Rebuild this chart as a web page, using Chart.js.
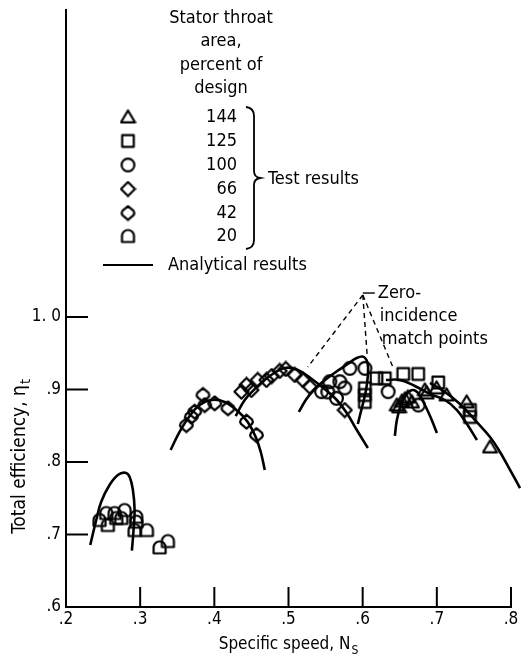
<!DOCTYPE html>
<html>
<head>
<meta charset="utf-8">
<script src="https://cdn.jsdelivr.net/npm/chart.js@4"></script>
<style>
html,body{margin:0;padding:0;background:#fff;}
#wrap{width:529px;height:662px;position:relative;}
</style>
</head>
<body>
<div id="wrap"><canvas id="c" width="529" height="662"></canvas></div>
<script>
// ---- Data (specific speed Ns, total efficiency) ----
const areaLabels = ['144', '125', '100', '66', '42', '20'];
const xTickVals = [0.2, 0.3, 0.4, 0.5, 0.6, 0.7, 0.8];
const xTickText = ['.2', '.3', '.4', '.5', '.6', '.7', '.8'];
const yTickVals = [0.6, 0.7, 0.8, 0.9, 1.0];
const yTickText = ['.6', '.7', '.8', '.9', '1. 0'];

const eff144 = [[0.6461,0.8786],[0.6490,0.8760],[0.6529,0.8841],[0.6570,0.8870],[0.6610,0.8897],[0.6664,0.8828],[0.6838,0.8993],[0.6862,0.8952],[0.6997,0.9021],[0.7132,0.8924],[0.7402,0.8828],[0.7717,0.8207]];
const eff125 = [[0.6029,0.9017],[0.6029,0.8924],[0.6029,0.8828],[0.6187,0.9154],[0.6299,0.9154],[0.6547,0.9214],[0.6749,0.9214],[0.7019,0.9097],[0.7447,0.8717],[0.7447,0.8621]];
const eff100 = [[0.5445,0.8970],[0.5530,0.8966],[0.5557,0.9108],[0.5647,0.8879],[0.5692,0.9108],[0.5759,0.9021],[0.5827,0.9292],[0.6030,0.9292],[0.6344,0.8970],[0.6750,0.8786]];
const eff66 = [[0.4365,0.8970],[0.4433,0.9062],[0.4500,0.8993],[0.4585,0.9131],[0.4703,0.9131],[0.4774,0.9186],[0.4882,0.9255],[0.4963,0.9283],[0.5085,0.9200],[0.5193,0.9131],[0.5287,0.9039],[0.5759,0.8717]];
const eff42 = [[0.3623,0.8510],[0.3690,0.8625],[0.3735,0.8694],[0.3847,0.8924],[0.3870,0.8786],[0.4005,0.8810],[0.4184,0.8741],[0.4433,0.8556],[0.4568,0.8372]];
const eff20 = [[0.2452,0.7200],[0.2564,0.7131],[0.2543,0.7297],[0.2655,0.7297],[0.2678,0.7228],[0.2790,0.7338],[0.2745,0.7228],[0.2948,0.7246],[0.2948,0.7177],[0.2925,0.7062],[0.3091,0.7062],[0.3262,0.6823],[0.3374,0.6910]];

// Analytical curves
const curveA = [[0.2327,0.6855],[0.2408,0.7200],[0.2475,0.7452],[0.2587,0.7683],[0.2699,0.7821],[0.2799,0.7852],[0.2857,0.7797],[0.2902,0.7614],[0.2925,0.7338],[0.2911,0.7062],[0.2888,0.6777]];
const curveB = [[0.3411,0.8166],[0.3531,0.8414],[0.3667,0.8634],[0.3802,0.8786],[0.3964,0.8855],[0.4139,0.8828],[0.4315,0.8703],[0.4450,0.8552],[0.4558,0.8345],[0.4626,0.8138],[0.4680,0.7890]];
const curveC = [[0.4288,0.8634],[0.4410,0.8855],[0.4558,0.9021],[0.4747,0.9186],[0.4950,0.9297],[0.5125,0.9269],[0.5314,0.9145],[0.5503,0.8993],[0.5651,0.8855],[0.5786,0.8676],[0.5921,0.8441],[0.6070,0.8193]];
const curveD = [[0.5139,0.8690],[0.5233,0.8855],[0.5341,0.8993],[0.5476,0.9117],[0.5638,0.9241],[0.5800,0.9352],[0.5920,0.9434],[0.6016,0.9448],[0.6070,0.9338],[0.6056,0.9062],[0.6016,0.8855],[0.5975,0.8690],[0.5935,0.8524]];
const curveE = [[0.6434,0.8359],[0.6461,0.8579],[0.6515,0.8786],[0.6596,0.8938],[0.6677,0.8993],[0.6758,0.8938],[0.6839,0.8786],[0.6920,0.8607],[0.7001,0.8400]];
const curveF = [[0.6313,0.9131],[0.6502,0.9131],[0.6704,0.9048],[0.6907,0.8938],[0.7109,0.8855],[0.7271,0.8717],[0.7406,0.8524],[0.7541,0.8303]];
const curveG = [[0.6907,0.9090],[0.7109,0.8966],[0.7312,0.8800],[0.7514,0.8579],[0.7717,0.8345],[0.7852,0.8138],[0.7987,0.7890],[0.8122,0.7641]];

// zero-incidence annotation (data coordinates)
const matchLabelAt = [0.6002, 1.0303];
const matchPoints = [[0.5260, 0.9310], [0.6060, 0.9480], [0.6407, 0.9310]];

// ---- Styling ----
const INK = '#000';
const FONT = '"DejaVu Sans Condensed", "DejaVu Sans", sans-serif';

function makeMarker(kind) {
  const s = 17, c = document.createElement('canvas');
  c.width = s; c.height = s;
  const g = c.getContext('2d');
  g.strokeStyle = INK; g.lineWidth = 2.2; g.lineJoin = 'round';
  g.translate(s / 2, s / 2);
  g.beginPath();
  if (kind === 'tri') { g.moveTo(0, -6.5); g.lineTo(7, 5.3); g.lineTo(-7, 5.3); g.closePath(); }
  else if (kind === 'sq') { g.rect(-5.8, -5.8, 11.6, 11.6); }
  else if (kind === 'circ') { g.arc(0, 0, 6.4, 0, Math.PI * 2); }
  else if (kind === 'dia') { g.moveTo(0, -7); g.lineTo(7, 0); g.lineTo(0, 7); g.lineTo(-7, 0); g.closePath(); }
  else if (kind === 'hex') { g.moveTo(0, -6.8); g.lineTo(5.6, -2.2); g.quadraticCurveTo(7, 0, 5.6, 2.2); g.lineTo(0, 6.8); g.lineTo(-5.6, 2.2); g.quadraticCurveTo(-7, 0, -5.6, -2.2); g.closePath(); }
  else if (kind === 'tomb') { g.moveTo(-6, 6); g.lineTo(-6, 0); g.arc(0, 0, 6, Math.PI, 0); g.lineTo(6, 6); g.closePath(); }
  g.stroke();
  return c;
}
const markers = ['tri', 'sq', 'circ', 'dia', 'hex', 'tomb'].map(makeMarker);
const seriesData = [eff144, eff125, eff100, eff66, eff42, eff20];
const curves = [curveA, curveB, curveC, curveD, curveE, curveF, curveG];

const toXY = arr => arr.map(p => ({x: p[0], y: p[1]}));

const datasets = [];
curves.forEach((cv, i) => datasets.push({
  label: 'analytical' + i, data: toXY(cv), showLine: true, pointRadius: 0,
  borderColor: INK, borderWidth: 2.6, tension: 0.4, clip: false
}));
seriesData.forEach((sd, i) => datasets.push({
  label: areaLabels[i], data: toXY(sd), showLine: false, pointRadius: 6,
  pointStyle: markers[i], borderColor: INK, clip: false
}));

const annot = {
  id: 'annot',
  afterDraw(chart) {
    const ctx = chart.ctx, xs = chart.scales.x, ys = chart.scales.y;
    ctx.save();
    ctx.strokeStyle = INK; ctx.fillStyle = INK; ctx.lineWidth = 2;
    // inward ticks
    ctx.beginPath();
    yTickVals.forEach(v => { if (v === 0.6) return; const py = ys.getPixelForValue(v); ctx.moveTo(xs.left, py); ctx.lineTo(xs.left + 22, py); });
    xTickVals.forEach(v => { if (v === 0.2) return; const px = xs.getPixelForValue(v); ctx.moveTo(px, ys.bottom); ctx.lineTo(px, ys.bottom - 20); });
    ctx.stroke();

    // legend block
    ctx.font = '18px ' + FONT; ctx.textBaseline = 'middle';
    ctx.textAlign = 'center';
    ['Stator throat', 'area,', 'percent of', 'design'].forEach((t, i) => ctx.fillText(t, 221, 18 + i * 23.5));
    const rowY = [117, 141, 165, 189, 213, 236];
    ctx.textAlign = 'right';
    areaLabels.forEach((t, i) => {
      ctx.drawImage(markers[i], 128 - 8.5, rowY[i] - 8.5);
      ctx.fillText(t, 237, rowY[i]);
    });
    // brace
    ctx.lineWidth = 1.8;
    ctx.beginPath();
    ctx.moveTo(246, 107);
    ctx.quadraticCurveTo(254, 108, 254, 116);
    ctx.lineTo(254, 171);
    ctx.quadraticCurveTo(254, 177, 260, 178);
    ctx.quadraticCurveTo(254, 179, 254, 185);
    ctx.lineTo(254, 240);
    ctx.quadraticCurveTo(254, 248, 246, 249);
    ctx.stroke();
    ctx.textAlign = 'left';
    ctx.fillText('Test results', 268, 179);
    ctx.lineWidth = 2.2;
    ctx.beginPath(); ctx.moveTo(103, 265); ctx.lineTo(153, 265); ctx.stroke();
    ctx.fillText('Analytical results', 168, 265);

    // zero-incidence match points
    const ax = xs.getPixelForValue(matchLabelAt[0]), ay = ys.getPixelForValue(matchLabelAt[1]);
    ctx.fillText('Zero-', ax + 15, ay - 2);
    ctx.fillText('incidence', ax + 17, ay + 21);
    ctx.fillText('match points', ax + 19, ay + 44);
    ctx.lineWidth = 1.4;
    ctx.beginPath(); ctx.moveTo(ax, ay - 2); ctx.lineTo(ax + 12, ay - 2); ctx.stroke();
    ctx.setLineDash([5, 4]);
    matchPoints.forEach(p => {
      ctx.beginPath(); ctx.moveTo(ax, ay); ctx.lineTo(xs.getPixelForValue(p[0]), ys.getPixelForValue(p[1])); ctx.stroke();
    });
    ctx.setLineDash([]);

    // axis titles with subscripts
    const drawSub = (main, sub, cx, cy, size) => {
      ctx.font = size + 'px ' + FONT;
      const w1 = ctx.measureText(main).width;
      ctx.font = Math.round(size * 0.72) + 'px ' + FONT;
      const w2 = ctx.measureText(sub).width;
      const x0 = cx - (w1 + w2) / 2;
      ctx.textAlign = 'left'; ctx.textBaseline = 'middle';
      ctx.font = size + 'px ' + FONT; ctx.fillText(main, x0, cy);
      ctx.font = Math.round(size * 0.72) + 'px ' + FONT; ctx.fillText(sub, x0 + w1 + 1, cy + 6);
    };
    drawSub('Specific speed, N', 'S', 288, 645, 17);
    ctx.save();
    ctx.translate(20, 457); ctx.rotate(-Math.PI / 2);
    drawSub('Total efficiency, \u03B7', 't', 0, 0, 19);
    ctx.restore();
    ctx.restore();
  }
};

new Chart(document.getElementById('c'), {
  type: 'scatter',
  data: {datasets},
  options: {
    responsive: false, animation: false, devicePixelRatio: 1,
    layout: {padding: {top: 10, right: 18, left: 0, bottom: 0}},
    plugins: {legend: {display: false}, tooltip: {enabled: false}},
    scales: {
      x: {
        type: 'linear', min: 0.2, max: 0.8,
        grid: {display: false, drawTicks: false},
        border: {display: true, color: INK, width: 2},
        afterBuildTicks: s => { s.ticks = xTickVals.map(v => ({value: v})); },
        afterFit: s => { s.height = 55; s.paddingLeft = 0; s.paddingRight = 0; },
        ticks: {color: INK, font: {family: FONT, size: 17}, padding: 2,
          callback: (v) => xTickText[xTickVals.findIndex(t => Math.abs(t - v) < 1e-6)]}
      },
      y: {
        type: 'linear', min: 0.6, max: 1.4234,
        grid: {display: false, drawTicks: false},
        border: {display: true, color: INK, width: 2},
        afterBuildTicks: s => { s.ticks = yTickVals.map(v => ({value: v})); },
        afterFit: s => { s.width = 66; s.paddingTop = 0; s.paddingBottom = 0; },
        ticks: {color: INK, font: {family: FONT, size: 17}, padding: 5,
          callback: (v) => yTickText[yTickVals.findIndex(t => Math.abs(t - v) < 1e-6)]}
      }
    }
  },
  plugins: [annot]
});
</script>
</body>
</html>
